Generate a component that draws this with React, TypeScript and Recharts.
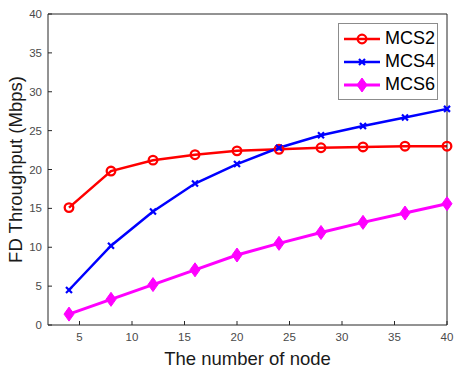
import { LineChart, Line, XAxis, YAxis } from "recharts";

const nodes = [4, 8, 12, 16, 20, 24, 28, 32, 36, 40];
const mcs2 = [15.1, 19.8, 21.2, 21.9, 22.4, 22.6, 22.8, 22.9, 23.0, 23.0];
const mcs4 = [4.5, 10.2, 14.6, 18.2, 20.7, 22.8, 24.4, 25.6, 26.7, 27.8];
const mcs6 = [1.4, 3.3, 5.2, 7.1, 9.0, 10.5, 11.9, 13.2, 14.4, 15.6];
const xTicks = [5, 10, 15, 20, 25, 30, 35, 40];
const yTicks = [0, 5, 10, 15, 20, 25, 30, 35, 40];

const data = nodes.map((n, i) => ({ n, mcs2: mcs2[i], mcs4: mcs4[i], mcs6: mcs6[i] }));

const series = [
  { key: "mcs2", name: "MCS2", color: "#ff0000", width: 2.5 },
  { key: "mcs4", name: "MCS4", color: "#0000ff", width: 2.5 },
  { key: "mcs6", name: "MCS6", color: "#ff00ff", width: 3 },
];

const AXIS = "#262626";
const TICK = "#4a4a4a";
const FONT = "'Liberation Sans', Arial, sans-serif";

function Marker({ kind, cx, cy }: { kind: string; cx: number; cy: number }) {
  if (kind === "mcs2")
    return <circle cx={cx} cy={cy} r={4.3} fill="none" stroke="#ff0000" strokeWidth={2.3} />;
  if (kind === "mcs4")
    return (
      <g stroke="#0000ff" strokeWidth={2.2}>
        <line x1={cx - 3} y1={cy - 3} x2={cx + 3} y2={cy + 3} />
        <line x1={cx - 3} y1={cy + 3} x2={cx + 3} y2={cy - 3} />
      </g>
    );
  return (
    <polygon
      points={`${cx},${cy - 7} ${cx + 5},${cy} ${cx},${cy + 7} ${cx - 5},${cy}`}
      fill="#ff00ff"
      stroke="#ff00ff"
      strokeWidth={1}
    />
  );
}

const YLabel = ({ viewBox }: any) => {
  const x = viewBox.x + 15;
  const y = viewBox.y + viewBox.height / 2;
  return (
    <text
      x={x}
      y={y}
      transform={`rotate(-90 ${x} ${y})`}
      textAnchor="middle"
      dominantBaseline="central"
      fill="#1a1a1a"
      fontSize={18.5}
    >
      FD Throughput (Mbps)
    </text>
  );
};

const LegendBox = () => (
  <div
    style={{
      position: "absolute",
      left: 338,
      top: 23,
      border: "1px solid #8c8c8c",
      background: "#fff",
      width: 98,
      padding: "3px 0",
      fontFamily: FONT,
      fontSize: 18,
      color: "#000",
    }}
  >
    {series.map((s) => (
      <div key={s.key} style={{ display: "flex", alignItems: "center", height: 23 }}>
        <svg width={44} height={20} style={{ marginLeft: 3 }}>
          <line x1={2} y1={10} x2={38} y2={10} stroke={s.color} strokeWidth={s.width} />
          <Marker kind={s.key} cx={20} cy={10} />
        </svg>
        <span style={{ marginLeft: -1 }}>{s.name}</span>
      </div>
    ))}
  </div>
);

export default function App() {
  return (
    <div style={{ position: "absolute", left: 0, top: 0, width: 457, height: 370, background: "#fff" }}>
      <LineChart
        width={457}
        height={370}
        data={data}
        margin={{ top: 13, right: 9, left: 0, bottom: 0 }}
        style={{ fontFamily: FONT }}
      >
        <XAxis
          xAxisId="b"
          dataKey="n"
          type="number"
          domain={[2, 40]}
          ticks={xTicks}
          height={45}
          stroke={AXIS}
          tickSize={-4}
          tickMargin={12}
          tick={{ fill: TICK, fontSize: 11.5 }}
          label={{ value: "The number of node", position: "insideBottom", offset: 5, fill: "#1a1a1a", fontSize: 18.5 }}
        />
        <XAxis
          xAxisId="t"
          dataKey="n"
          type="number"
          orientation="top"
          domain={[2, 40]}
          ticks={xTicks}
          height={1}
          stroke={AXIS}
          tickSize={-4}
          tick={false}
        />
        <YAxis
          yAxisId="l"
          domain={[0, 40]}
          ticks={yTicks}
          width={48}
          stroke={AXIS}
          tickSize={-4}
          tickMargin={10}
          tick={{ fill: TICK, fontSize: 11.5 }}
          label={<YLabel />}
        />
        <YAxis
          yAxisId="r"
          orientation="right"
          domain={[0, 40]}
          ticks={yTicks}
          width={1}
          stroke={AXIS}
          tickSize={-4}
          tick={false}
        />
        {series.map((s) => (
          <Line
            key={s.key}
            xAxisId="b"
            yAxisId="l"
            dataKey={s.key}
            name={s.name}
            stroke={s.color}
            strokeWidth={s.width}
            isAnimationActive={false}
            dot={(p: any) => <Marker key={`${s.key}-${p.index}`} kind={s.key} cx={p.cx} cy={p.cy} />}
            activeDot={false}
          />
        ))}
      </LineChart>
      <LegendBox />
    </div>
  );
}
